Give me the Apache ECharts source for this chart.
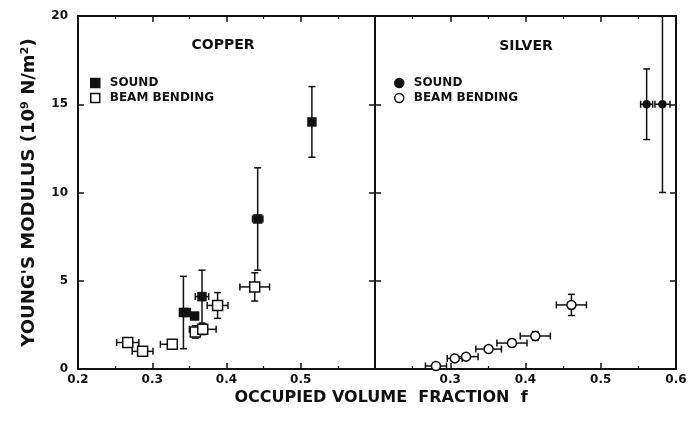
<!DOCTYPE html>
<html>
<head>
<meta charset="utf-8">
<script src="https://cdn.jsdelivr.net/npm/echarts@6/dist/echarts.min.js"></script>
<style>
  html, body { margin: 0; padding: 0; background: #fff; }
  #chart { width: 690px; height: 421px; }
</style>
</head>
<body>
<div id="chart"></div>
<script>
// ---- Copper, sound velocity measurements ----
const cuSoundF    = [0.342, 0.346, 0.357, 0.367, 0.442, 0.515];
const cuSoundE    = [3.2,   3.2,   3.0,   4.1,   8.5,   14.0];
const cuSoundFLo  = [0,     0,     0,     0.009, 0.007, 0];
const cuSoundFHi  = [0,     0,     0,     0.009, 0.007, 0];
const cuSoundELo  = [2.05,  0,     0,     1.5,   2.9,   2.0];
const cuSoundEHi  = [2.05,  0,     0,     1.5,   2.9,   2.0];

// ---- Copper, beam bending measurements ----
const cuBeamF     = [0.267, 0.287, 0.327, 0.358, 0.368, 0.388, 0.438];
const cuBeamE     = [1.5,   1.0,   1.4,   2.1,   2.25,  3.6,   4.65];
const cuBeamFLo   = [0.015, 0.014, 0.016, 0,     0.018, 0.014, 0.02];
const cuBeamFHi   = [0.015, 0.014, 0,     0,     0.018, 0.014, 0.02];
const cuBeamELo   = [0,     0,     0,     0.35,  0.3,   0.73,  0.8];
const cuBeamEHi   = [0,     0,     0,     0.35,  0.3,   0.73,  0.8];

// ---- Silver, sound velocity measurements ----
const agSoundF    = [0.561, 0.582];
const agSoundE    = [15.0,  15.0];
const agSoundFLo  = [0.008, 0.01];
const agSoundFHi  = [0.008, 0.01];
const agSoundELo  = [2.0,   5.0];
const agSoundEHi  = [2.0,   5.0];

// ---- Silver, beam bending measurements ----
const agBeamF     = [0.281, 0.306, 0.321, 0.351, 0.382, 0.413, 0.461];
const agBeamE     = [0.17,  0.6,   0.7,   1.13,  1.47,  1.87,  3.63];
const agBeamFLo   = [0.014, 0.01,  0.016, 0.017, 0.02,  0.02,  0.02];
const agBeamFHi   = [0.014, 0.01,  0.016, 0.017, 0.02,  0.02,  0.02];
const agBeamELo   = [0,     0,     0,     0,     0.2,   0.25,  0.6];
const agBeamEHi   = [0,     0,     0,     0,     0.2,   0.25,  0.6];

// ---- Axis ticks and labels ----
const fMin = 0.2, fMax = 0.6, fStep = 0.1;
const eMin = 0, eMax = 20, eStep = 5;
const cuFLabels = ['0.2', '0.3', '0.4', '0.5'];
const agFLabels = ['0.3', '0.4', '0.5', '0.6'];

const legendText = {
  cuSound: 'SOUND', cuBeam: 'BEAM BENDING',
  agSound: 'SOUND', agBeam: 'BEAM BENDING'
};

const FONT = 'DejaVu Sans';
const INK = '#111';

function rows(f, e, fLo, fHi, eLo, eHi) {
  return f.map((v, i) => [v, e[i], fLo[i], fHi[i], eLo[i], eHi[i]]);
}

// Error bars with end caps, in data units through the axis scales
function renderErrorBars(params, api) {
  const f = api.value(0), e = api.value(1);
  const fLo = api.value(2), fHi = api.value(3);
  const eLo = api.value(4), eHi = api.value(5);
  const c = api.coord([f, e]);
  const cap = 3.5;
  const st = { stroke: INK, lineWidth: 1.5 };
  const kids = [];
  const seg = (x1, y1, x2, y2) => kids.push({ type: 'line', shape: { x1, y1, x2, y2 }, style: st });
  if (eLo > 0 || eHi > 0) {
    const top = api.coord([f, e + eHi])[1];
    const bot = api.coord([f, e - eLo])[1];
    seg(c[0], top, c[0], bot);
    if (eHi > 0) seg(c[0] - cap, top, c[0] + cap, top);
    if (eLo > 0) seg(c[0] - cap, bot, c[0] + cap, bot);
  }
  if (fLo > 0 || fHi > 0) {
    const lx = api.coord([f - fLo, e])[0];
    const rx = api.coord([f + fHi, e])[0];
    seg(lx, c[1], rx, c[1]);
    if (fLo > 0) seg(lx, c[1] - cap, lx, c[1] + cap);
    if (fHi > 0) seg(rx, c[1] - cap, rx, c[1] + cap);
  }
  return { type: 'group', children: kids };
}

const labelStyle = { fontFamily: FONT, fontWeight: 'bold', fontSize: 12, color: INK };
const axisLine = { show: true, onZero: false, lineStyle: { color: INK, width: 2 } };

function fAxis(gridIndex, position, labels) {
  return {
    type: 'value', gridIndex, position, min: fMin, max: fMax, interval: fStep,
    axisLine,
    axisTick: { show: true, inside: true, length: 6, lineStyle: { color: INK, width: 1.5 } },
    minorTick: { show: true, splitNumber: 2, length: 3, lineStyle: { color: INK, width: 1.2 } },
    splitLine: { show: false },
    axisLabel: labels ? {
      show: true, margin: 5, ...labelStyle,
      formatter: v => { const s = (Math.round(v * 10) / 10).toFixed(1); return labels.includes(s) ? s : ''; }
    } : { show: false }
  };
}

function eAxis(gridIndex, position, withLabels, extra) {
  return Object.assign({
    type: 'value', gridIndex, position, min: eMin, max: eMax, interval: eStep,
    axisLine,
    axisTick: { show: true, inside: true, length: 6, lineStyle: { color: INK, width: 1.5 } },
    splitLine: { show: false },
    axisLabel: withLabels ? { show: true, margin: 10, ...labelStyle } : { show: false }
  }, extra || {});
}

const errSeries = (name, x, y, data) => ({
  type: 'custom', name, xAxisIndex: x, yAxisIndex: y, data,
  dimensions: ['f', 'E', 'fLo', 'fHi', 'eLo', 'eHi'],
  encode: { x: 0, y: 1 }, renderItem: renderErrorBars, z: 2, silent: true, clip: true
});

const markSeries = (name, x, y, f, e, symbol, size, filled) => ({
  type: 'scatter', name, xAxisIndex: x, yAxisIndex: y,
  data: f.map((v, i) => [v, e[i]]),
  symbol, symbolSize: size, z: 3, silent: true,
  itemStyle: filled
    ? { color: INK, borderColor: INK, borderWidth: 0.5, opacity: 1 }
    : { color: '#fff', borderColor: INK, borderWidth: 1.5, opacity: 1 }
});

const legendBase = {
  orient: 'vertical', itemWidth: 9, itemHeight: 9, itemGap: 3, padding: 0,
  selectedMode: false, formatter: n => legendText[n],
  itemStyle: { borderWidth: 1.5 },
  textStyle: { ...labelStyle, padding: [0, 0, 0, 5] }
};

const chart = echarts.init(document.getElementById('chart'), null, { renderer: 'canvas' });
chart.setOption({
  backgroundColor: '#fff',
  animation: false,
  grid: [
    { left: 78, right: 315, top: 16, bottom: 52 },
    { left: 375, right: 14, top: 16, bottom: 52 }
  ],
  title: [
    { text: 'COPPER', left: 223, top: 38, textAlign: 'center', padding: 0,
      textStyle: { fontFamily: FONT, fontWeight: 'bold', fontSize: 14, color: INK } },
    { text: 'SILVER', left: 526, top: 39, textAlign: 'center', padding: 0,
      textStyle: { fontFamily: FONT, fontWeight: 'bold', fontSize: 14, color: INK } },
    { text: 'OCCUPIED VOLUME  FRACTION  f', left: 381, top: 390, textAlign: 'center', padding: 0,
      textStyle: { fontFamily: FONT, fontWeight: 'bold', fontSize: 16, color: INK } }
  ],
  legend: [
    { ...legendBase, left: 90, top: 77, data: ['cuSound', 'cuBeam'] },
    { ...legendBase, left: 394, top: 77, data: ['agSound', 'agBeam'] }
  ],
  xAxis: [
    fAxis(0, 'bottom', cuFLabels),
    fAxis(0, 'top', null),
    fAxis(1, 'bottom', agFLabels),
    fAxis(1, 'top', null)
  ],
  yAxis: [
    eAxis(0, 'left', true, {
      name: "YOUNG'S MODULUS (10⁹ N/m²)", nameLocation: 'middle', nameGap: 40, nameRotate: 90,
      nameTextStyle: { fontFamily: FONT, fontWeight: 'bold', fontSize: 18, color: INK }
    }),
    eAxis(0, 'right', false),
    eAxis(1, 'left', false),
    eAxis(1, 'right', false)
  ],
  series: [
    errSeries('cuSoundErr', 0, 0, rows(cuSoundF, cuSoundE, cuSoundFLo, cuSoundFHi, cuSoundELo, cuSoundEHi)),
    errSeries('cuBeamErr', 0, 0, rows(cuBeamF, cuBeamE, cuBeamFLo, cuBeamFHi, cuBeamELo, cuBeamEHi)),
    errSeries('agSoundErr', 2, 2, rows(agSoundF, agSoundE, agSoundFLo, agSoundFHi, agSoundELo, agSoundEHi)),
    errSeries('agBeamErr', 2, 2, rows(agBeamF, agBeamE, agBeamFLo, agBeamFHi, agBeamELo, agBeamEHi)),
    markSeries('cuSound', 0, 0, cuSoundF, cuSoundE, 'rect', 9, true),
    markSeries('cuBeam', 0, 0, cuBeamF, cuBeamE, 'rect', 10, false),
    markSeries('agSound', 2, 2, agSoundF, agSoundE, 'circle', 8, true),
    markSeries('agBeam', 2, 2, agBeamF, agBeamE, 'circle', 9, false)
  ]
});
</script>
</body>
</html>
